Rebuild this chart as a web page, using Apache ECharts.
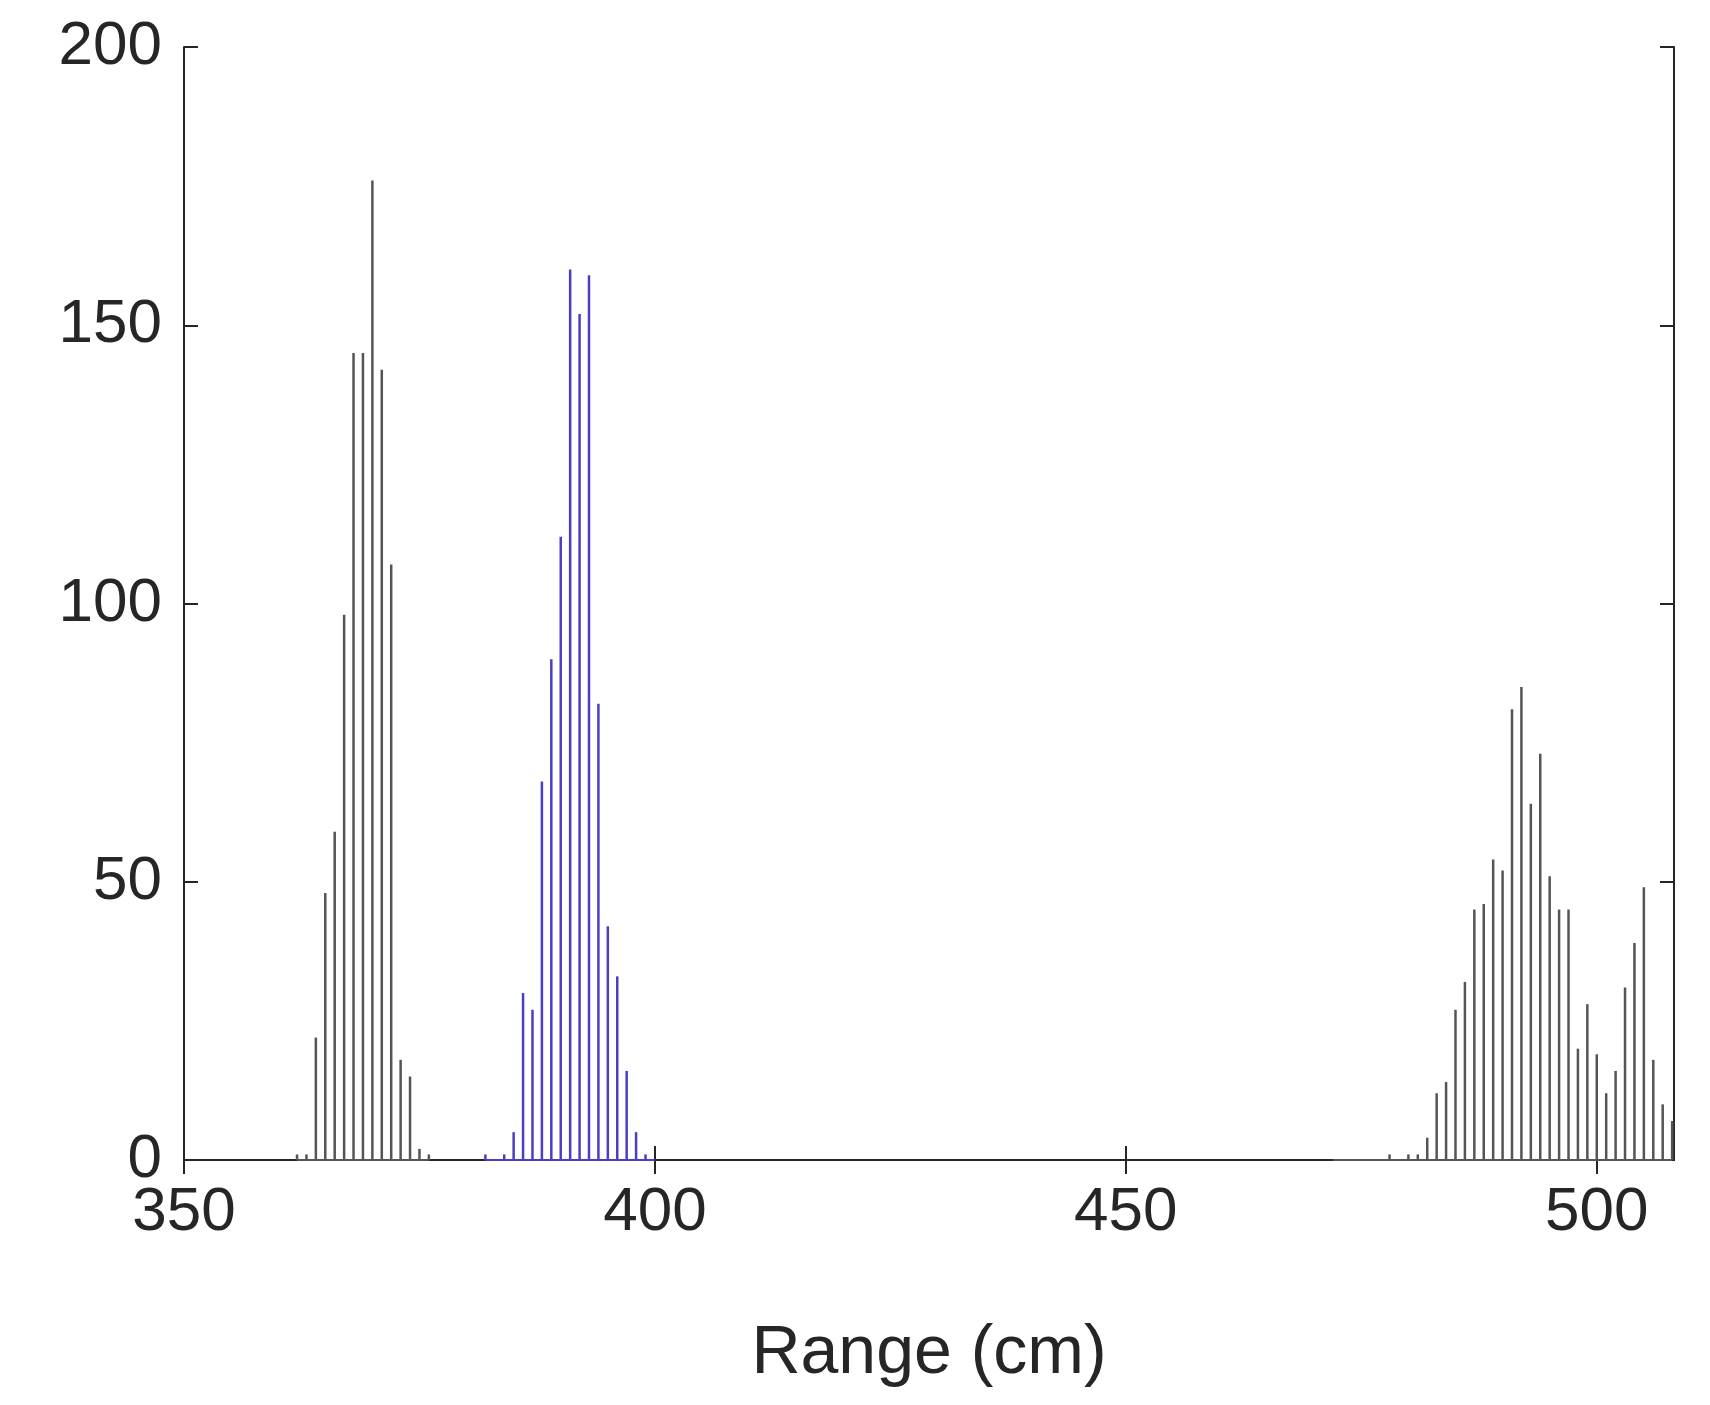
<!DOCTYPE html>
<html><head><meta charset="utf-8">
<script src="https://cdn.jsdelivr.net/npm/echarts@6/dist/echarts.min.js"></script>
<style>html,body{margin:0;padding:0;background:#fff}#c{width:1710px;height:1405px}</style>
</head><body><div id="c"></div>
<script>
const blackX = [362,363,364,365,366,367,368,369,370,371,372,373,374,375,376,
  472,478,480,481,482,483,484,485,486,487,488,489,490,491,492,493,494,495,496,497,498,499,500,501,502,503,504,505,506,507,508];
const blackY = [1,1,22,48,59,98,145,145,176,142,107,18,15,2,1,
  0,1,1,1,4,12,14,27,32,45,46,54,52,81,85,64,73,51,45,45,20,28,19,12,16,31,39,49,18,10,7];
const blueX = [382,383,384,385,386,387,388,389,390,391,392,393,394,395,396,397,398,399,400];
const blueY = [1,0,1,5,30,27,68,90,112,160,152,159,82,42,33,16,5,1,0];
const xTicks = [350,400,450,500];
const yTicks = [0,50,100,150,200];

const pair = (xs, ys) => xs.map((x,i)=>[x,ys[i]]);
const chart = echarts.init(document.getElementById('c'));
const line = {show:true,lineStyle:{color:'#262626',width:2}};
const tick = {show:true,inside:true,length:14,lineStyle:{color:'#262626',width:2}};
const font = 'Arial, Liberation Sans';
chart.setOption({
  animation:false,
  grid:{left:184,top:47,width:1490,height:1113,containLabel:false},
  xAxis:[
    {type:'value',min:350,max:508.2,position:'bottom',axisLine:line,splitLine:{show:false},
      axisTick:Object.assign({},tick,{customValues:xTicks}),
      axisLabel:{fontSize:62,color:'#262626',fontFamily:font,margin:22,customValues:xTicks},
      name:'Range (cm)',nameLocation:'middle',nameGap:160,
      nameTextStyle:{fontSize:68,color:'#262626',fontFamily:font}},
    {type:'value',min:350,max:508.2,position:'top',axisLine:line,splitLine:{show:false},
      axisTick:Object.assign({},tick,{customValues:xTicks}),
      axisLabel:{show:false,customValues:xTicks}}
  ],
  yAxis:[
    {type:'value',min:0,max:200,interval:50,position:'left',axisLine:line,axisTick:tick,splitLine:{show:false},
      axisLabel:{fontSize:62,color:'#262626',fontFamily:font,margin:22,customValues:yTicks}},
    {type:'value',min:0,max:200,interval:50,position:'right',axisLine:line,axisTick:tick,splitLine:{show:false},
      axisLabel:{show:false}}
  ],
  series:[
    {type:'bar',data:pair(blackX,blackY),barWidth:2.5,itemStyle:{color:'#555555'}},
    {type:'bar',data:pair(blueX,blueY),barWidth:2.5,itemStyle:{color:'#4a3fc4'},barGap:'-100%'},
    {type:'line',data:[[382,0],[400,0]],symbol:'none',lineStyle:{color:'#4a3fc4',width:2}},
    {type:'line',data:[[472,0],[508,0]],symbol:'none',lineStyle:{color:'#555',width:2}},
    {type:'line',data:[[362,0],[376,0]],symbol:'none',lineStyle:{color:'#555',width:2}},
    {type:'line',xAxisIndex:1,data:[],symbol:'none'}
  ]
});
</script></body></html>
